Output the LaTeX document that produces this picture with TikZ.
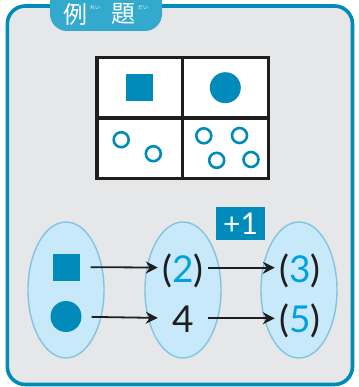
\documentclass[tikz,border=0pt]{standalone}
\usepackage{fontspec}
\setmainfont{Lato}
\newfontfamily\jpfont{Noto Sans CJK JP}
\usepackage{tikz}
\usetikzlibrary{arrows.meta,shapes,positioning}
\usepackage{xcolor}
\definecolor{exblue}{RGB}{0,139,187}
\definecolor{extab}{RGB}{52,169,206}
\definecolor{exgray}{RGB}{230,231,233}
\definecolor{exlightblue}{RGB}{200,233,249}
\definecolor{exedge}{RGB}{130,196,226}
\definecolor{exdigit}{RGB}{0,160,225}
\definecolor{exink}{RGB}{30,30,30}
\newcommand{\dig}[1]{\textcolor{exdigit}{#1}}
\tikzstyle{frame} = [line width=3.6pt, draw=exblue, fill=exgray, rounded corners=18pt]
\tikzstyle{tab} = [rectangle, rounded corners=17pt, minimum width=112pt, minimum height=46pt, fill=extab]
\tikzstyle{tabtext} = [text=white, inner sep=0, font=\jpfont\fontsize{24}{24}\selectfont]
\tikzstyle{ruby} = [text=white, inner sep=0, font=\jpfont\fontsize{5}{5}\selectfont]
\tikzstyle{cell} = [rectangle, draw=exink, line width=3.3pt, fill=white, minimum width=85.7pt, minimum height=60.5pt]
\tikzstyle{solidsq} = [rectangle, fill=exblue, minimum size=27pt, inner sep=0]
\tikzstyle{soliddot} = [circle, fill=exblue, minimum size=31pt, inner sep=0]
\tikzstyle{ring} = [circle, draw=exblue, line width=2.6pt, minimum size=15pt, inner sep=0]
\tikzstyle{group} = [ellipse, draw=exedge, fill=exlightblue, line width=1.4pt, minimum width=76pt, minimum height=136pt]
\tikzstyle{num} = [inner sep=0, minimum width=50pt, text height=30pt, text depth=1pt, text=exink, font=\fontsize{37}{37}\selectfont]
\tikzstyle{plusbox} = [rectangle, fill=exblue, text=white, minimum width=49pt, minimum height=33pt, inner sep=0, font=\fontsize{30}{30}\selectfont]
\tikzstyle{arrow} = [line width=1.8pt, -{Stealth[length=12pt,width=12pt]}, color=exink]

\begin{document}
\begin{tikzpicture}[x=1pt, y=-1pt]
\useasboundingbox (0,0) rectangle (358,387);
\clip (0,0) rectangle (358,387);
% Frame and title
\draw[frame] (7.3,6) rectangle (352.5,384.5);
\node (tab) [tab] at (106,8) {};
\node (rei) [tabtext] at (75,14) {例};
\node (reiru) [ruby] at (95,8) {れい};
\node (dai) [tabtext] at (123,14) {題};
\node (dairu) [ruby] at (143,8) {だい};

% Table
\node (c11) [cell] at (139.9,87.8) {};
\node (c12) [cell, right of=c11, node distance=85.5pt] {};
\node (c21) [cell, below of=c11, node distance=60.5pt] {};
\node (c22) [cell, right of=c21, node distance=85.5pt] {};
\node (bigsq) [solidsq] at (c11) {};
\node (bigdot) [soliddot] at (225.3,87.7) {};
\node (r1) [ring] at (121.2,139.7) {};
\node (r2) [ring] at (153.3,153.7) {};
\node (r3) [ring] at (203.8,135.8) {};
\node (r4) [ring] at (239.5,135.5) {};
\node (r5) [ring] at (216.7,160.3) {};
\node (r6) [ring] at (251,159.5) {};

% Groups
\node (g1) [group] at (66,290) {};
\node (g2) [group, right of=g1, node distance=117pt] {};
\node (g3) [group, right of=g2, node distance=116pt] {};
\node (sq) [solidsq] at (66,267) {};
\node (dot) [soliddot] at (66,316.5) {};
\node (n2) [num] at (183,267.7) {(\dig{2})};
\node (n4) [num] at (183,318.3) {4};
\node (n3) [num] at (300,267.7) {(\dig{3})};
\node (n5) [num] at (300,318.3) {(\dig{5})};
\node (plus) [plusbox] at (240.5,223.5) {+1};

% Mapping
\draw[arrow, shorten <=11pt] (sq) -- (n2);
\draw[arrow, shorten <=10pt] (dot) -- (n4);
\draw[arrow] (n2) -- (n3);
\draw[arrow] (n4) -- (n5);
\end{tikzpicture}
\end{document}
